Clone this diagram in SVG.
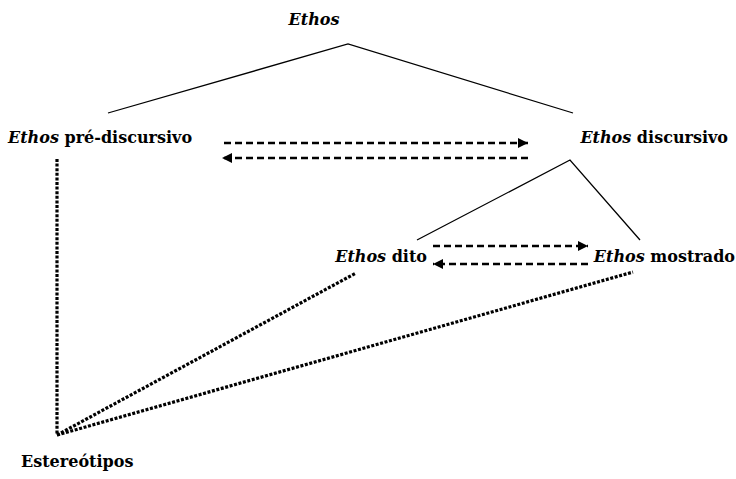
<svg xmlns="http://www.w3.org/2000/svg" width="736" height="479" viewBox="0 0 736 479">
<style>
text{font-family:"DejaVu Serif","Liberation Serif",serif;font-size:16px;font-weight:bold;fill:#000}
.it{font-style:italic}
.solid{stroke:#000;stroke-width:1.3;fill:none}
.dash{stroke:#000;stroke-width:2.5;stroke-dasharray:7 4;fill:none}
.dot{stroke:#000;stroke-width:3.2;stroke-dasharray:3 1.6;fill:none}
</style>
<defs>
<marker id="ah" viewBox="0 0 10 10" refX="10" refY="5" markerWidth="4" markerHeight="4" markerUnits="strokeWidth" orient="auto">
<path d="M0,0 L10,5 L0,10 Z" fill="#000"/>
</marker>
</defs>
<rect width="736" height="479" fill="#fff"/>
<g id="connectors">
<path class="solid" d="M108,113 L348,44 L573,113"/>
<path class="solid" d="M417,240 L570,160 L640,240"/>
<line class="dash" x1="224" y1="143" x2="528" y2="143" marker-end="url(#ah)"/>
<line class="dash" x1="528" y1="158" x2="222" y2="158" marker-end="url(#ah)"/>
<line class="dash" x1="433" y1="246" x2="588" y2="246" marker-end="url(#ah)"/>
<line class="dash" x1="588" y1="264" x2="433" y2="264" marker-end="url(#ah)"/>
<line class="dot" x1="57" y1="159" x2="57" y2="435"/>
<line class="dot" x1="57" y1="435" x2="356" y2="273"/>
<line class="dot" x1="57" y1="435" x2="633" y2="272"/>
</g>
<g id="ethos"><text x="314" y="25" text-anchor="middle" class="it">Ethos</text></g>
<g id="ethos-pre"><text x="8" y="143"><tspan class="it">Ethos</tspan> pré-discursivo</text></g>
<g id="ethos-disc"><text x="728" y="143" text-anchor="end"><tspan class="it">Ethos</tspan> discursivo</text></g>
<g id="ethos-dito"><text x="427" y="262" text-anchor="end"><tspan class="it">Ethos</tspan> dito</text></g>
<g id="ethos-mostrado"><text x="735" y="262" text-anchor="end"><tspan class="it">Ethos</tspan> mostrado</text></g>
<g id="estereotipos"><text x="21" y="467">Estereótipos</text></g>
</svg>
